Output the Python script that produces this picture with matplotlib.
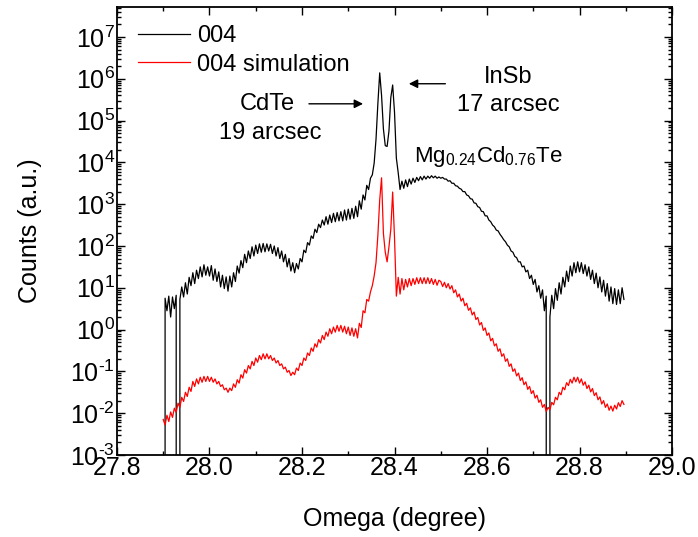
import numpy as np
import matplotlib
matplotlib.use("Agg")
import matplotlib.pyplot as plt
from matplotlib.ticker import (MultipleLocator, LogLocator, NullFormatter,
                               FormatStrFormatter, FuncFormatter)

plt.rcParams['font.family'] = ['Liberation Sans', 'DejaVu Sans']
plt.rcParams['mathtext.fontset'] = 'custom'
plt.rcParams['mathtext.rm'] = 'Liberation Sans'
plt.rcParams['mathtext.it'] = 'Liberation Sans'
plt.rcParams['axes.unicode_minus'] = False

# omega scan grid, 0.004 deg step
omega = np.linspace(27.900, 28.896, 250)

# log10(counts), measured 004 rocking curve (-inf = zero counts)
log_measured = [
    -np.inf, 0.75, 0.45, 0.80, 0.30, 0.78, 0.50, 0.82, -np.inf, 0.72,
    1.02, 0.78, 1.12, 0.85, 1.25, 1.05, 1.36, 1.10, 1.42, 1.22,
    1.50, 1.26, 1.55, 1.30, 1.50, 1.28, 1.53, 1.18, 1.45, 1.15,
    1.38, 1.02, 1.30, 0.98, 1.26, 0.92, 1.28, 1.02, 1.36, 1.15,
    1.52, 1.35, 1.65, 1.48, 1.80, 1.60, 1.88, 1.70, 1.98, 1.76,
    2.02, 1.82, 2.05, 1.85, 2.06, 1.86, 2.05, 1.88, 2.04, 1.82,
    2.00, 1.76, 1.96, 1.70, 1.88, 1.62, 1.80, 1.50, 1.70, 1.40,
    1.60, 1.36, 1.58, 1.45, 1.70, 1.62, 1.90, 1.84, 2.08, 2.02,
    2.24, 2.18, 2.40, 2.32, 2.52, 2.44, 2.62, 2.50, 2.70, 2.52,
    2.74, 2.56, 2.78, 2.58, 2.80, 2.60, 2.82, 2.60, 2.86, 2.62,
    2.88, 2.64, 2.90, 2.66, 2.95, 2.70, 3.08, 2.88, 3.22, 3.10,
    3.45, 3.35, 3.62, 3.70, 3.98, 4.55, 5.40, 6.14, 5.60, 4.80,
    4.40, 4.38, 4.75, 5.55, 5.85, 5.20, 4.10, 3.75, 3.35, 3.55,
    3.38, 3.58, 3.42, 3.60, 3.48, 3.62, 3.52, 3.64, 3.56, 3.66,
    3.58, 3.67, 3.60, 3.67, 3.62, 3.68, 3.63, 3.67, 3.62, 3.65,
    3.62, 3.64, 3.60, 3.60, 3.55, 3.56, 3.50, 3.50, 3.44, 3.43,
    3.38, 3.36, 3.30, 3.30, 3.22, 3.20, 3.13, 3.12, 3.03, 3.02,
    2.94, 2.92, 2.83, 2.82, 2.72, 2.72, 2.62, 2.58, 2.50, 2.46,
    2.38, 2.36, 2.28, 2.22, 2.15, 2.10, 2.02, 1.98, 1.88, 1.85,
    1.75, 1.72, 1.62, 1.62, 1.50, 1.52, 1.38, 1.42, 1.22, 1.30,
    1.08, 1.20, 0.90, 1.05, 0.75, 0.95, 0.45, 0.80, -np.inf, 0.30,
    0.82, 0.50, 0.98, 0.70, 1.12, 0.85, 1.25, 1.02, 1.40, 1.15,
    1.52, 1.28, 1.60, 1.36, 1.62, 1.38, 1.60, 1.34, 1.55, 1.28,
    1.50, 1.20, 1.42, 1.10, 1.35, 1.00, 1.26, 0.90, 1.18, 0.80,
    1.10, 0.68, 1.02, 0.62, 0.98, 0.60, 0.95, 0.62, 1.00, 0.72,
]

# log10(counts), dynamical simulation
log_simulated = [
    -2.15, -2.28, -2.05, -2.20, -1.97, -2.10, -1.88, -1.98, -1.76, -1.86,
    -1.62, -1.72, -1.50, -1.60, -1.38, -1.48, -1.24, -1.36, -1.18, -1.30,
    -1.14, -1.26, -1.12, -1.24, -1.12, -1.24, -1.14, -1.26, -1.18, -1.30,
    -1.24, -1.36, -1.32, -1.44, -1.40, -1.50, -1.40, -1.46, -1.30, -1.38,
    -1.20, -1.28, -1.08, -1.16, -0.96, -1.04, -0.86, -0.94, -0.76, -0.86,
    -0.68, -0.78, -0.62, -0.72, -0.58, -0.70, -0.58, -0.70, -0.62, -0.74,
    -0.68, -0.80, -0.74, -0.86, -0.82, -0.94, -0.90, -1.02, -0.98, -1.10,
    -1.02, -1.08, -0.92, -0.98, -0.80, -0.86, -0.68, -0.74, -0.56, -0.62,
    -0.44, -0.52, -0.34, -0.42, -0.24, -0.32, -0.14, -0.24, -0.06, -0.16,
    0.02, -0.10, 0.06, -0.06, 0.10, -0.04, 0.10, -0.06, 0.08, -0.10,
    0.06, -0.14, 0.04, -0.16, 0.02, -0.20, 0.15, 0.05, 0.45, 0.40,
    0.72, 0.68, 0.90, 1.05, 1.28, 1.60, 2.25, 3.10, 3.63, 2.30,
    1.85, 1.62, 1.98, 2.40, 3.29, 2.20, 0.80, 1.25, 0.85, 1.22,
    0.95, 1.20, 1.02, 1.22, 1.05, 1.22, 1.08, 1.24, 1.10, 1.24,
    1.10, 1.24, 1.10, 1.24, 1.10, 1.22, 1.08, 1.20, 1.06, 1.18,
    1.15, 1.03, 1.13, 1.00, 1.10, 0.97, 1.05, 0.88, 0.95, 0.78,
    0.85, 0.68, 0.75, 0.57, 0.63, 0.46, 0.52, 0.35, 0.42, 0.24,
    0.29, 0.11, 0.17, -0.02, 0.04, -0.14, -0.08, -0.27, -0.21, -0.39,
    -0.34, -0.52, -0.46, -0.64, -0.58, -0.76, -0.70, -0.88, -0.82, -1.00,
    -0.94, -1.11, -1.04, -1.22, -1.15, -1.32, -1.25, -1.43, -1.36, -1.53,
    -1.46, -1.64, -1.57, -1.74, -1.68, -1.86, -1.79, -1.96, -1.86, -1.92,
    -1.74, -1.80, -1.62, -1.68, -1.50, -1.56, -1.38, -1.44, -1.27, -1.34,
    -1.19, -1.28, -1.14, -1.25, -1.14, -1.28, -1.18, -1.33, -1.25, -1.41,
    -1.33, -1.49, -1.41, -1.58, -1.51, -1.68, -1.61, -1.78, -1.70, -1.86,
    -1.78, -1.93, -1.83, -1.95, -1.81, -1.90, -1.75, -1.84, -1.70, -1.79,
]

measured = np.power(10.0, np.array(log_measured))
simulated = np.power(10.0, np.array(log_simulated))


def decade_label(value, pos):
    # 10^n with a short hyphen for negative exponents
    n = int(round(np.log10(value)))
    exp = r'\text{-}%d' % -n if n < 0 else '%d' % n
    return r'$\mathdefault{10^{%s}}$' % exp


fig = plt.figure(figsize=(6.98, 5.37), dpi=100)
ax = fig.add_axes([0.1676, 0.1527, 0.7952, 0.8343])

ax.plot(omega, measured, color='black', lw=0.9, label='004')
ax.plot(omega, simulated, color='red', lw=0.9, label='004 simulation')

ax.set_yscale('log')
ax.set_xlim(27.8, 29.0)
ax.set_ylim(1e-3, 5.2e7)

ax.xaxis.set_major_locator(MultipleLocator(0.2))
ax.xaxis.set_minor_locator(MultipleLocator(0.1))
ax.xaxis.set_major_formatter(FormatStrFormatter('%.1f'))
ax.yaxis.set_major_locator(LogLocator(base=10, numticks=20))
ax.yaxis.set_minor_locator(LogLocator(base=10, subs=np.arange(2, 10), numticks=20))
ax.yaxis.set_major_formatter(FuncFormatter(decade_label))
ax.yaxis.set_minor_formatter(NullFormatter())

ax.tick_params(which='both', direction='in', top=True, right=True, width=1.0)
ax.tick_params(which='major', length=6, labelsize=18)
ax.tick_params(axis='x', which='major', pad=1)
ax.tick_params(axis='y', which='major', pad=1.5)
ax.tick_params(which='minor', length=3)
for s in ax.spines.values():
    s.set_linewidth(1.3)

ax.set_xlabel('Omega (degree)', fontsize=18)
ax.set_ylabel('Counts (a.u.)', fontsize=18)
ax.xaxis.set_label_coords(0.5, -0.117)
ax.yaxis.set_label_coords(-0.135, 0.5)

ax.legend(loc='upper left', bbox_to_anchor=(0.021, 0.98), frameon=False,
          fontsize=17, handlelength=2.2, handletextpad=0.3,
          labelspacing=0.27, borderaxespad=0.0)

# peak labels
ax.annotate('', xy=(28.338, 10**5.40), xytext=(28.209, 10**5.40),
            arrowprops=dict(arrowstyle='-|>', color='black', lw=1.0,
                            mutation_scale=13))
ax.text(28.124, 10**5.40, 'CdTe', fontsize=17, ha='center', va='center')
ax.text(28.131, 10**4.70, '19 arcsec', fontsize=17, ha='center', va='center')

ax.annotate('', xy=(28.425, 10**5.88), xytext=(28.516, 10**5.88),
            arrowprops=dict(arrowstyle='-|>', color='black', lw=1.0,
                            mutation_scale=13))
ax.text(28.646, 10**6.05, 'InSb', fontsize=17, ha='center', va='center')
ax.text(28.646, 10**5.37, '17 arcsec', fontsize=17, ha='center', va='center')

ax.text(28.602, 10**4.15, r'Mg$_{0.24}$Cd$_{0.76}$Te', fontsize=16,
        ha='center', va='center')

fig.savefig('out.png', dpi=100)
